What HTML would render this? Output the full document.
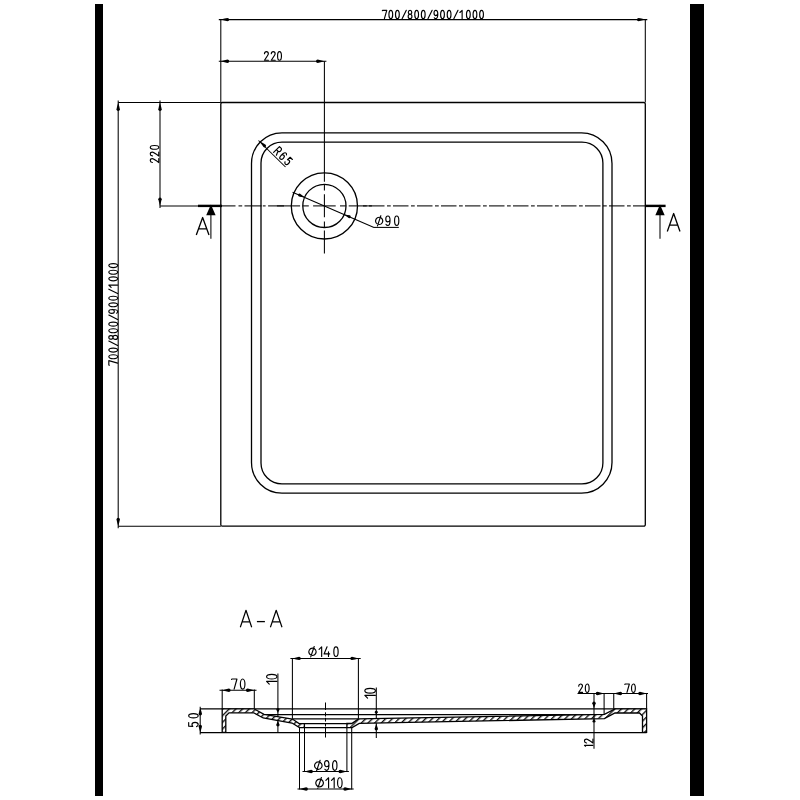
<!DOCTYPE html>
<html><head><meta charset="utf-8"><style>html,body{margin:0;padding:0;background:#fff;}svg{display:block;}</style></head>
<body><svg width="800" height="800" viewBox="0 0 800 800">
<rect width="800" height="800" fill="#fff"/>
<rect x="95" y="4" width="8" height="792" fill="#000"/>
<rect x="690" y="4" width="14" height="792" fill="#000"/>
<path d="M222.3,102.5 L643.8,102.5 A1.5,1.5 0 0 1 645.3,104.0 L645.3,524.7 A1.5,1.5 0 0 1 643.8,526.2 L222.3,526.2 A1.5,1.5 0 0 1 220.8,524.7 L220.8,104.0 A1.5,1.5 0 0 1 222.3,102.5 Z" stroke="#000" stroke-width="1.3" fill="none" stroke-linejoin="round" />
<path d="M282.0,132.9 L581.5,132.9 A30.5,30.5 0 0 1 612.0,163.4 L612.0,462.6 A30.5,30.5 0 0 1 581.5,493.1 L282.0,493.1 A30.5,30.5 0 0 1 251.5,462.6 L251.5,163.4 A30.5,30.5 0 0 1 282.0,132.9 Z" stroke="#000" stroke-width="1.3" fill="none" stroke-linejoin="round" />
<path d="M282.0,142.1 L581.9,142.1 A21.0,21.0 0 0 1 602.9,163.1 L602.9,462.9 A21.0,21.0 0 0 1 581.9,483.9 L282.0,483.9 A21.0,21.0 0 0 1 261.0,462.9 L261.0,163.1 A21.0,21.0 0 0 1 282.0,142.1 Z" stroke="#000" stroke-width="1.3" fill="none" stroke-linejoin="round" />
<circle cx="324.4" cy="205.9" r="33.1" fill="none" stroke="#000" stroke-width="1.3"/>
<circle cx="324.4" cy="205.9" r="21.6" fill="none" stroke="#000" stroke-width="1.3"/>
<line x1="218.8" y1="19.6" x2="647.3" y2="19.6" stroke="#000" stroke-width="1.05" stroke-linecap="butt"/>
<line x1="220.8" y1="19.0" x2="220.8" y2="102.5" stroke="#000" stroke-width="1.05" stroke-linecap="butt"/>
<line x1="645.3" y1="19.0" x2="645.3" y2="102.5" stroke="#000" stroke-width="1.05" stroke-linecap="butt"/>
<path d="M220.80,19.60 L224.58,18.58 L227.50,17.90 A1.7,1.7 0 0 1 227.50,21.30 L224.58,20.62 Z" fill="#000"/>
<path d="M645.30,19.60 L641.52,20.62 L638.60,21.30 A1.7,1.7 0 0 1 638.60,17.90 L641.52,18.58 Z" fill="#000"/>
<g transform="translate(381.750,19.250) rotate(0) translate(0.575,-0.575) scale(0.8350) translate(0,-10)" fill="none" stroke="#000" stroke-width="1.377" stroke-linecap="round" stroke-linejoin="round"><path transform="translate(0.000,0)" d="M0,0.5 L0.3,0 L5.3,0 L2.5,10"/><path transform="translate(7.900,0)" d="M0,5 A2.25,5 0 0 1 4.5,5 A2.25,5 0 0 1 0,5 Z"/><path transform="translate(15.800,0)" d="M0,5 A2.25,5 0 0 1 4.5,5 A2.25,5 0 0 1 0,5 Z"/><path transform="translate(23.700,0)" d="M0,10 L5,0"/><path transform="translate(30.959,0)" d="M2.25,4.7 C0.9,4.7 0.2,3.7 0.2,2.4 C0.2,1 1,0 2.25,0 C3.5,0 4.3,1 4.3,2.4 C4.3,3.7 3.6,4.7 2.25,4.7 C0.9,4.7 0,5.8 0,7.3 C0,8.9 1,10 2.25,10 C3.5,10 4.5,8.9 4.5,7.3 C4.5,5.8 3.6,4.7 2.25,4.7 Z"/><path transform="translate(38.859,0)" d="M0,5 A2.25,5 0 0 1 4.5,5 A2.25,5 0 0 1 0,5 Z"/><path transform="translate(46.759,0)" d="M0,5 A2.25,5 0 0 1 4.5,5 A2.25,5 0 0 1 0,5 Z"/><path transform="translate(54.659,0)" d="M0,10 L5,0"/><path transform="translate(61.919,0)" d="M0.3,8.9 C0.7,9.7 1.4,10 2.2,10 C3.7,10 4.5,7.8 4.5,4.4 C4.5,1.4 3.6,0 2.25,0 C0.8,0 0,1.2 0,3.2 C0,5.1 0.9,6.3 2.2,6.3 C3.3,6.3 4.1,5.4 4.5,4.1"/><path transform="translate(69.819,0)" d="M0,5 A2.25,5 0 0 1 4.5,5 A2.25,5 0 0 1 0,5 Z"/><path transform="translate(77.719,0)" d="M0,5 A2.25,5 0 0 1 4.5,5 A2.25,5 0 0 1 0,5 Z"/><path transform="translate(85.619,0)" d="M0,10 L5,0"/><path transform="translate(92.878,0)" d="M0,2.6 L2.7,0 L2.7,10"/><path transform="translate(100.778,0)" d="M0,5 A2.25,5 0 0 1 4.5,5 A2.25,5 0 0 1 0,5 Z"/><path transform="translate(108.678,0)" d="M0,5 A2.25,5 0 0 1 4.5,5 A2.25,5 0 0 1 0,5 Z"/><path transform="translate(116.578,0)" d="M0,5 A2.25,5 0 0 1 4.5,5 A2.25,5 0 0 1 0,5 Z"/></g>
<line x1="218.8" y1="61.3" x2="326.4" y2="61.3" stroke="#000" stroke-width="1.05" stroke-linecap="butt"/>
<path d="M220.80,61.30 L224.58,60.28 L227.50,59.60 A1.7,1.7 0 0 1 227.50,63.00 L224.58,62.32 Z" fill="#000"/>
<path d="M324.40,61.30 L320.62,62.32 L317.70,63.00 A1.7,1.7 0 0 1 317.70,59.60 L320.62,60.28 Z" fill="#000"/>
<line x1="324.4" y1="61.3" x2="324.4" y2="181.75" stroke="#000" stroke-width="1.05" stroke-linecap="butt"/>
<g transform="translate(263.900,60.800) rotate(0) translate(0.575,-0.575) scale(0.8600) translate(0,-10)" fill="none" stroke="#000" stroke-width="1.337" stroke-linecap="round" stroke-linejoin="round"><path transform="translate(0.000,0)" d="M0,2.5 C0.1,1 1,0 2.25,0 C3.5,0 4.5,1 4.5,2.5 C4.5,3.7 3.8,4.8 0,10 L4.6,10"/><path transform="translate(7.907,0)" d="M0,2.5 C0.1,1 1,0 2.25,0 C3.5,0 4.5,1 4.5,2.5 C4.5,3.7 3.8,4.8 0,10 L4.6,10"/><path transform="translate(15.233,0)" d="M0,5 A2.25,5 0 0 1 4.5,5 A2.25,5 0 0 1 0,5 Z"/></g>
<line x1="118.2" y1="100.5" x2="118.2" y2="528.2" stroke="#000" stroke-width="1.05" stroke-linecap="butt"/>
<path d="M118.20,102.50 L119.22,106.28 L119.90,109.20 A1.7,1.7 0 0 1 116.50,109.20 L117.18,106.28 Z" fill="#000"/>
<path d="M118.20,526.20 L117.18,522.42 L116.50,519.50 A1.7,1.7 0 0 1 119.90,519.50 L119.22,522.42 Z" fill="#000"/>
<line x1="118.2" y1="102.5" x2="220.8" y2="102.5" stroke="#000" stroke-width="1.05" stroke-linecap="butt"/>
<line x1="118.2" y1="526.2" x2="220.8" y2="526.2" stroke="#000" stroke-width="1.05" stroke-linecap="butt"/>
<g transform="translate(118.200,365.900) rotate(-90) translate(0.575,-0.575) scale(0.8800) translate(0,-10)" fill="none" stroke="#000" stroke-width="1.307" stroke-linecap="round" stroke-linejoin="round"><path transform="translate(0.000,0)" d="M0,0.5 L0.3,0 L5.3,0 L2.5,10"/><path transform="translate(7.527,0)" d="M0,5 A2.25,5 0 0 1 4.5,5 A2.25,5 0 0 1 0,5 Z"/><path transform="translate(15.053,0)" d="M0,5 A2.25,5 0 0 1 4.5,5 A2.25,5 0 0 1 0,5 Z"/><path transform="translate(22.580,0)" d="M0,10 L5,0"/><path transform="translate(29.496,0)" d="M2.25,4.7 C0.9,4.7 0.2,3.7 0.2,2.4 C0.2,1 1,0 2.25,0 C3.5,0 4.3,1 4.3,2.4 C4.3,3.7 3.6,4.7 2.25,4.7 C0.9,4.7 0,5.8 0,7.3 C0,8.9 1,10 2.25,10 C3.5,10 4.5,8.9 4.5,7.3 C4.5,5.8 3.6,4.7 2.25,4.7 Z"/><path transform="translate(37.023,0)" d="M0,5 A2.25,5 0 0 1 4.5,5 A2.25,5 0 0 1 0,5 Z"/><path transform="translate(44.549,0)" d="M0,5 A2.25,5 0 0 1 4.5,5 A2.25,5 0 0 1 0,5 Z"/><path transform="translate(52.076,0)" d="M0,10 L5,0"/><path transform="translate(58.992,0)" d="M0.3,8.9 C0.7,9.7 1.4,10 2.2,10 C3.7,10 4.5,7.8 4.5,4.4 C4.5,1.4 3.6,0 2.25,0 C0.8,0 0,1.2 0,3.2 C0,5.1 0.9,6.3 2.2,6.3 C3.3,6.3 4.1,5.4 4.5,4.1"/><path transform="translate(66.519,0)" d="M0,5 A2.25,5 0 0 1 4.5,5 A2.25,5 0 0 1 0,5 Z"/><path transform="translate(74.045,0)" d="M0,5 A2.25,5 0 0 1 4.5,5 A2.25,5 0 0 1 0,5 Z"/><path transform="translate(81.572,0)" d="M0,10 L5,0"/><path transform="translate(88.488,0)" d="M0,2.6 L2.7,0 L2.7,10"/><path transform="translate(96.015,0)" d="M0,5 A2.25,5 0 0 1 4.5,5 A2.25,5 0 0 1 0,5 Z"/><path transform="translate(103.542,0)" d="M0,5 A2.25,5 0 0 1 4.5,5 A2.25,5 0 0 1 0,5 Z"/><path transform="translate(111.068,0)" d="M0,5 A2.25,5 0 0 1 4.5,5 A2.25,5 0 0 1 0,5 Z"/></g>
<line x1="160" y1="100.5" x2="160" y2="207.9" stroke="#000" stroke-width="1.05" stroke-linecap="butt"/>
<path d="M160.00,102.50 L161.02,106.28 L161.70,109.20 A1.7,1.7 0 0 1 158.30,109.20 L158.98,106.28 Z" fill="#000"/>
<path d="M160.00,205.90 L158.98,202.12 L158.30,199.20 A1.7,1.7 0 0 1 161.70,199.20 L161.02,202.12 Z" fill="#000"/>
<line x1="160" y1="205.9" x2="198" y2="205.9" stroke="#000" stroke-width="1.05" stroke-linecap="butt"/>
<g transform="translate(159.350,163.100) rotate(-90) translate(0.575,-0.575) scale(0.8500) translate(0,-10)" fill="none" stroke="#000" stroke-width="1.353" stroke-linecap="round" stroke-linejoin="round"><path transform="translate(0.000,0)" d="M0,2.5 C0.1,1 1,0 2.25,0 C3.5,0 4.5,1 4.5,2.5 C4.5,3.7 3.8,4.8 0,10 L4.6,10"/><path transform="translate(7.779,0)" d="M0,2.5 C0.1,1 1,0 2.25,0 C3.5,0 4.5,1 4.5,2.5 C4.5,3.7 3.8,4.8 0,10 L4.6,10"/><path transform="translate(15.559,0)" d="M0,5 A2.25,5 0 0 1 4.5,5 A2.25,5 0 0 1 0,5 Z"/></g>
<line x1="198" y1="205.9" x2="222" y2="205.9" stroke="#000" stroke-width="2.4" stroke-linecap="butt"/>
<line x1="645" y1="205.9" x2="665.6" y2="205.9" stroke="#000" stroke-width="2.4" stroke-linecap="butt"/>
<polygon points="210.9,204.6 206.2,215.2 215.6,215.2" fill="#000"/>
<line x1="210.9" y1="215" x2="210.9" y2="238.8" stroke="#000" stroke-width="1.05" stroke-linecap="butt"/>
<polygon points="660,204.6 655.3,215.2 664.7,215.2" fill="#000"/>
<line x1="660" y1="215" x2="660" y2="238.8" stroke="#000" stroke-width="1.05" stroke-linecap="butt"/>
<path d="M196.3,235.0 L202.65,217.5 L209.0,235.0 M198.078,228.875 L207.222,228.875" stroke="#000" stroke-width="1.3" fill="none" stroke-linejoin="round" />
<path d="M667.3,231.5 L673.65,213.5 L680.0,231.5 M669.078,225.2 L678.222,225.2" stroke="#000" stroke-width="1.3" fill="none" stroke-linejoin="round" />
<line x1="222" y1="205.9" x2="235.5" y2="205.9" stroke="#000" stroke-width="1.05" stroke-linecap="butt"/>
<line x1="238.5" y1="205.9" x2="242.2" y2="205.9" stroke="#000" stroke-width="1.05" stroke-linecap="butt"/>
<line x1="244.5" y1="205.9" x2="261.6" y2="205.9" stroke="#000" stroke-width="1.05" stroke-linecap="butt"/>
<line x1="262.8" y1="205.9" x2="265.6" y2="205.9" stroke="#000" stroke-width="1.05" stroke-linecap="butt"/>
<line x1="268.1" y1="205.9" x2="284" y2="205.9" stroke="#000" stroke-width="1.05" stroke-linecap="butt"/>
<line x1="369" y1="205.9" x2="384.5" y2="205.9" stroke="#000" stroke-width="1.05" stroke-linecap="butt"/>
<line x1="363" y1="205.9" x2="366.75" y2="205.9" stroke="#000" stroke-width="1.05" stroke-linecap="butt"/>
<line x1="393" y1="205.9" x2="408.5" y2="205.9" stroke="#000" stroke-width="1.05" stroke-linecap="butt"/>
<line x1="387" y1="205.9" x2="390.75" y2="205.9" stroke="#000" stroke-width="1.05" stroke-linecap="butt"/>
<line x1="417" y1="205.9" x2="432.5" y2="205.9" stroke="#000" stroke-width="1.05" stroke-linecap="butt"/>
<line x1="411" y1="205.9" x2="414.75" y2="205.9" stroke="#000" stroke-width="1.05" stroke-linecap="butt"/>
<line x1="441" y1="205.9" x2="456.5" y2="205.9" stroke="#000" stroke-width="1.05" stroke-linecap="butt"/>
<line x1="435" y1="205.9" x2="438.75" y2="205.9" stroke="#000" stroke-width="1.05" stroke-linecap="butt"/>
<line x1="465" y1="205.9" x2="480.5" y2="205.9" stroke="#000" stroke-width="1.05" stroke-linecap="butt"/>
<line x1="459" y1="205.9" x2="462.75" y2="205.9" stroke="#000" stroke-width="1.05" stroke-linecap="butt"/>
<line x1="489" y1="205.9" x2="504.5" y2="205.9" stroke="#000" stroke-width="1.05" stroke-linecap="butt"/>
<line x1="483" y1="205.9" x2="486.75" y2="205.9" stroke="#000" stroke-width="1.05" stroke-linecap="butt"/>
<line x1="513" y1="205.9" x2="528.5" y2="205.9" stroke="#000" stroke-width="1.05" stroke-linecap="butt"/>
<line x1="507" y1="205.9" x2="510.75" y2="205.9" stroke="#000" stroke-width="1.05" stroke-linecap="butt"/>
<line x1="537" y1="205.9" x2="552.5" y2="205.9" stroke="#000" stroke-width="1.05" stroke-linecap="butt"/>
<line x1="531" y1="205.9" x2="534.75" y2="205.9" stroke="#000" stroke-width="1.05" stroke-linecap="butt"/>
<line x1="561" y1="205.9" x2="576.5" y2="205.9" stroke="#000" stroke-width="1.05" stroke-linecap="butt"/>
<line x1="555" y1="205.9" x2="558.75" y2="205.9" stroke="#000" stroke-width="1.05" stroke-linecap="butt"/>
<line x1="585" y1="205.9" x2="600.5" y2="205.9" stroke="#000" stroke-width="1.05" stroke-linecap="butt"/>
<line x1="579" y1="205.9" x2="582.75" y2="205.9" stroke="#000" stroke-width="1.05" stroke-linecap="butt"/>
<line x1="609" y1="205.9" x2="624.5" y2="205.9" stroke="#000" stroke-width="1.05" stroke-linecap="butt"/>
<line x1="603" y1="205.9" x2="606.75" y2="205.9" stroke="#000" stroke-width="1.05" stroke-linecap="butt"/>
<line x1="633" y1="205.9" x2="645" y2="205.9" stroke="#000" stroke-width="1.05" stroke-linecap="butt"/>
<line x1="627" y1="205.9" x2="630.75" y2="205.9" stroke="#000" stroke-width="1.05" stroke-linecap="butt"/>
<line x1="348.7" y1="205.9" x2="371.9" y2="205.9" stroke="#000" stroke-width="1.05" stroke-linecap="butt"/>
<line x1="340.0" y1="205.9" x2="346.09999999999997" y2="205.9" stroke="#000" stroke-width="1.05" stroke-linecap="butt"/>
<line x1="313.09999999999997" y1="205.9" x2="335.7" y2="205.9" stroke="#000" stroke-width="1.05" stroke-linecap="butt"/>
<line x1="302.7" y1="205.9" x2="308.79999999999995" y2="205.9" stroke="#000" stroke-width="1.05" stroke-linecap="butt"/>
<line x1="276.9" y1="205.9" x2="300.09999999999997" y2="205.9" stroke="#000" stroke-width="1.05" stroke-linecap="butt"/>
<line x1="324.4" y1="230.6" x2="324.4" y2="253.4" stroke="#000" stroke-width="1.05" stroke-linecap="butt"/>
<line x1="324.4" y1="221.6" x2="324.4" y2="227.5" stroke="#000" stroke-width="1.05" stroke-linecap="butt"/>
<line x1="324.4" y1="194.25" x2="324.4" y2="217.20000000000002" stroke="#000" stroke-width="1.05" stroke-linecap="butt"/>
<line x1="324.4" y1="184.5" x2="324.4" y2="190.5" stroke="#000" stroke-width="1.05" stroke-linecap="butt"/>
<line x1="258.5" y1="140.5" x2="285.5" y2="167.0" stroke="#000" stroke-width="1.05" stroke-linecap="butt"/>
<path d="M260.20,141.60 L263.27,143.35 L265.61,144.80 A1.5,1.5 0 0 1 263.51,146.94 L262.01,144.64 Z" fill="#000"/>
<g transform="translate(272.800,152.400) rotate(45) translate(0.575,-0.575) scale(0.8250) translate(0,-10)" fill="none" stroke="#000" stroke-width="1.394" stroke-linecap="round" stroke-linejoin="round"><path transform="translate(0.000,0)" d="M0,10 L0,0 L2.8,0 C4,0 4.7,1.1 4.7,2.6 C4.7,4.1 4,5.2 2.8,5.2 L0,5.2 M2.6,5.2 L4.8,10"/><path transform="translate(8.932,0)" d="M4.2,1.1 C3.8,0.3 3.1,0 2.3,0 C0.8,0 0,2.2 0,5.6 C0,8.6 0.9,10 2.25,10 C3.7,10 4.5,8.8 4.5,6.8 C4.5,4.9 3.6,3.7 2.3,3.7 C1.2,3.7 0.4,4.6 0,5.9"/><path transform="translate(17.864,0)" d="M4.3,0 L0.5,0 L0.2,4.3 C0.8,3.8 1.5,3.5 2.3,3.5 C3.6,3.5 4.5,4.8 4.5,6.7 C4.5,8.8 3.6,10 2.25,10 C1.2,10 0.4,9.3 0,8.3"/></g>
<line x1="292.6" y1="192.2" x2="374.0" y2="227.4" stroke="#000" stroke-width="1.05" stroke-linecap="butt"/>
<line x1="374.0" y1="227.4" x2="398.8" y2="227.4" stroke="#000" stroke-width="1.05" stroke-linecap="butt"/>
<path d="M304.60,197.30 L301.35,196.88 L298.96,196.49 A1.5,1.5 0 0 1 300.15,193.74 L302.07,195.22 Z" fill="#000"/>
<path d="M344.20,214.50 L347.45,214.92 L349.84,215.31 A1.5,1.5 0 0 1 348.65,218.06 L346.73,216.58 Z" fill="#000"/>
<g transform="translate(375.000,226.000) rotate(0) translate(0.575,-0.575) scale(0.9450) translate(0,-10)" fill="none" stroke="#000" stroke-width="1.217" stroke-linecap="round" stroke-linejoin="round"><path transform="translate(0.000,0)" d="M3.8,1.4 A3.8,3.8 0 1 1 3.79,1.4 Z M2,10.5 L5.6,-0.3"/><path transform="translate(10.794,0)" d="M0.3,8.9 C0.7,9.7 1.4,10 2.2,10 C3.7,10 4.5,7.8 4.5,4.4 C4.5,1.4 3.6,0 2.25,0 C0.8,0 0,1.2 0,3.2 C0,5.1 0.9,6.3 2.2,6.3 C3.3,6.3 4.1,5.4 4.5,4.1"/><path transform="translate(20.106,0)" d="M0,5 A2.25,5 0 0 1 4.5,5 A2.25,5 0 0 1 0,5 Z"/></g>
<path d="M240.3,627.3 L246.0,610.3 L251.70000000000002,627.3 M241.89600000000002,621.8599999999999 L250.104,621.8599999999999" stroke="#000" stroke-width="1.2" fill="none" stroke-linejoin="round" />
<line x1="256.9" y1="621.6" x2="264.9" y2="621.6" stroke="#000" stroke-width="1.3" stroke-linecap="butt"/>
<path d="M270.4,627.3 L276.2,610.3 L282.0,627.3 M272.024,621.8599999999999 L280.376,621.8599999999999" stroke="#000" stroke-width="1.2" fill="none" stroke-linejoin="round" />
<line x1="200.1" y1="708.8" x2="646.6" y2="708.8" stroke="#000" stroke-width="1.25" stroke-linecap="butt"/>
<line x1="200.1" y1="732.5" x2="646.6" y2="732.5" stroke="#000" stroke-width="1.25" stroke-linecap="butt"/>
<line x1="264" y1="714.6" x2="604.1" y2="714.6" stroke="#000" stroke-width="1.25" stroke-linecap="butt"/>
<line x1="292.3" y1="718.9" x2="358.4" y2="718.9" stroke="#000" stroke-width="1.25" stroke-linecap="butt"/>
<line x1="200.2" y1="706.8" x2="200.2" y2="734.4" stroke="#000" stroke-width="1.05" stroke-linecap="butt"/>
<path d="M200.30,707.90 L201.32,711.32 L202.00,713.80 A1.7,1.7 0 0 1 198.60,713.80 L199.28,711.32 Z" fill="#000"/>
<path d="M200.30,732.40 L199.28,728.98 L198.60,726.50 A1.7,1.7 0 0 1 202.00,726.50 L201.32,728.98 Z" fill="#000"/>
<g transform="translate(198.750,727.200) rotate(-90) translate(0.575,-0.575) scale(0.9500) translate(0,-10)" fill="none" stroke="#000" stroke-width="1.211" stroke-linecap="round" stroke-linejoin="round"><path transform="translate(0.000,0)" d="M4.3,0 L0.5,0 L0.2,4.3 C0.8,3.8 1.5,3.5 2.3,3.5 C3.6,3.5 4.5,4.8 4.5,6.7 C4.5,8.8 3.6,10 2.25,10 C1.2,10 0.4,9.3 0,8.3"/><path transform="translate(9.132,0)" d="M0,5 A2.25,5 0 0 1 4.5,5 A2.25,5 0 0 1 0,5 Z"/></g>
<line x1="219.5" y1="690.3" x2="256.5" y2="690.3" stroke="#000" stroke-width="1.05" stroke-linecap="butt"/>
<path d="M222.20,690.30 L225.98,689.28 L228.90,688.60 A1.7,1.7 0 0 1 228.90,692.00 L225.98,691.32 Z" fill="#000"/>
<path d="M254.30,690.30 L250.52,691.32 L247.60,692.00 A1.7,1.7 0 0 1 247.60,688.60 L250.52,689.28 Z" fill="#000"/>
<line x1="222.2" y1="689.5" x2="222.2" y2="708.8" stroke="#000" stroke-width="1.05" stroke-linecap="butt"/>
<line x1="254.3" y1="689.5" x2="254.3" y2="708.8" stroke="#000" stroke-width="1.05" stroke-linecap="butt"/>
<g transform="translate(231.000,689.700) rotate(0) translate(0.575,-0.575) scale(1.0150) translate(0,-10)" fill="none" stroke="#000" stroke-width="1.133" stroke-linecap="round" stroke-linejoin="round"><path transform="translate(0.000,0)" d="M0,0.5 L0.3,0 L5.3,0 L2.5,10"/><path transform="translate(8.670,0)" d="M0,5 A2.25,5 0 0 1 4.5,5 A2.25,5 0 0 1 0,5 Z"/></g>
<line x1="277.9" y1="673.4" x2="277.9" y2="732.4" stroke="#000" stroke-width="1.05" stroke-linecap="butt"/>
<path d="M277.90,712.90 L276.88,710.74 L276.20,709.80 A1.7,1.7 0 0 1 279.60,709.80 L278.92,710.74 Z" fill="#000"/>
<path d="M277.90,720.80 L278.92,723.32 L279.60,724.70 A1.7,1.7 0 0 1 276.20,724.70 L276.88,723.32 Z" fill="#000"/>
<g transform="translate(277.500,684.750) rotate(-90) translate(0.575,-0.575) scale(1.0350) translate(0,-10)" fill="none" stroke="#000" stroke-width="1.111" stroke-linecap="round" stroke-linejoin="round"><path transform="translate(0.000,0)" d="M0,2.6 L2.7,0 L2.7,10"/><path transform="translate(5.017,0)" d="M0,5 A2.25,5 0 0 1 4.5,5 A2.25,5 0 0 1 0,5 Z"/></g>
<line x1="290.4" y1="658.4" x2="360.7" y2="658.4" stroke="#000" stroke-width="1.05" stroke-linecap="butt"/>
<path d="M292.40,658.40 L296.18,657.38 L299.10,656.70 A1.7,1.7 0 0 1 299.10,660.10 L296.18,659.42 Z" fill="#000"/>
<path d="M358.70,658.40 L354.92,659.42 L352.00,660.10 A1.7,1.7 0 0 1 352.00,656.70 L354.92,657.38 Z" fill="#000"/>
<line x1="292.4" y1="658.4" x2="292.4" y2="718.8" stroke="#000" stroke-width="1.05" stroke-linecap="butt"/>
<line x1="358.4" y1="658.4" x2="358.4" y2="718.8" stroke="#000" stroke-width="1.05" stroke-linecap="butt"/>
<g transform="translate(308.250,657.000) rotate(0) translate(0.575,-0.575) scale(0.9600) translate(0,-10)" fill="none" stroke="#000" stroke-width="1.198" stroke-linecap="round" stroke-linejoin="round"><path transform="translate(0.000,0)" d="M3.8,1.4 A3.8,3.8 0 1 1 3.79,1.4 Z M2,10.5 L5.6,-0.3"/><path transform="translate(10.677,0)" d="M0,2.6 L2.7,0 L2.7,10"/><path transform="translate(15.885,0)" d="M3.1,0 L0,7.4 L5.8,7.4 M4.6,5.3 L4.6,10"/><path transform="translate(26.042,0)" d="M0,5 A2.25,5 0 0 1 4.5,5 A2.25,5 0 0 1 0,5 Z"/></g>
<line x1="376.3" y1="687.5" x2="376.3" y2="738.0" stroke="#000" stroke-width="1.05" stroke-linecap="butt"/>
<path d="M376.30,715.00 L375.28,713.11 L374.60,712.50 A1.7,1.7 0 0 1 378.00,712.50 L377.32,713.11 Z" fill="#000"/>
<path d="M376.30,723.50 L377.32,726.65 L378.00,728.80 A1.7,1.7 0 0 1 374.60,728.80 L375.28,726.65 Z" fill="#000"/>
<g transform="translate(376.000,698.750) rotate(-90) translate(0.575,-0.575) scale(1.0600) translate(0,-10)" fill="none" stroke="#000" stroke-width="1.085" stroke-linecap="round" stroke-linejoin="round"><path transform="translate(0.000,0)" d="M0,2.6 L2.7,0 L2.7,10"/><path transform="translate(4.792,0)" d="M0,5 A2.25,5 0 0 1 4.5,5 A2.25,5 0 0 1 0,5 Z"/></g>
<line x1="325.5" y1="702.5" x2="325.5" y2="710" stroke="#000" stroke-width="1.05" stroke-linecap="butt"/>
<line x1="325.5" y1="712.3" x2="325.5" y2="716.5" stroke="#000" stroke-width="1.05" stroke-linecap="butt"/>
<line x1="325.5" y1="717.8" x2="325.5" y2="721.5" stroke="#000" stroke-width="1.05" stroke-linecap="butt"/>
<line x1="325.5" y1="723" x2="325.5" y2="726.5" stroke="#000" stroke-width="1.05" stroke-linecap="butt"/>
<line x1="325.5" y1="728" x2="325.5" y2="737.5" stroke="#000" stroke-width="1.05" stroke-linecap="butt"/>
<defs><pattern id="hat" patternUnits="userSpaceOnUse" width="4.7" height="20" patternTransform="rotate(45)"><rect x="0" y="0" width="4.7" height="20" fill="#fff"/><rect x="0" y="0" width="1.35" height="20" fill="#111"/></pattern></defs>
<polygon points="222.2,732.4 222.2,708.8 254.0,708.8 264.0,714.4 292.4,719.0 299.1,723.6 304.4,723.6 304.4,727.6 299.5,727.6 292.0,723.0 263.2,718.0 253.6,712.8 229.0,712.8 225.8,716.0 225.8,732.4" fill="url(#hat)" stroke="#000" stroke-width="1.3" stroke-linejoin="miter"/>
<polygon points="346.9,723.5 351.75,723.5 358.5,718.9 604.4,714.3 615.0,708.8 646.6,708.8 646.6,732.4 642.5,732.4 642.5,716.0 639.5,713.0 615.0,713.0 604.4,718.6 359.25,723.4 352.1,727.6 346.9,727.6" fill="url(#hat)" stroke="#000" stroke-width="1.3" stroke-linejoin="miter"/>
<line x1="304.4" y1="723.6" x2="346.9" y2="723.6" stroke="#000" stroke-width="1.3" stroke-linecap="butt"/>
<line x1="304.4" y1="727.6" x2="346.9" y2="727.6" stroke="#000" stroke-width="1.4" stroke-linecap="butt"/>
<line x1="299.5" y1="727.6" x2="299.5" y2="789.4" stroke="#000" stroke-width="1.05" stroke-linecap="butt"/>
<line x1="351.7" y1="727.6" x2="351.7" y2="789.4" stroke="#000" stroke-width="1.05" stroke-linecap="butt"/>
<line x1="304.5" y1="727.6" x2="304.5" y2="771.9" stroke="#000" stroke-width="1.05" stroke-linecap="butt"/>
<line x1="346.9" y1="727.6" x2="346.9" y2="771.9" stroke="#000" stroke-width="1.05" stroke-linecap="butt"/>
<line x1="302.5" y1="771.5" x2="348.9" y2="771.5" stroke="#000" stroke-width="1.05" stroke-linecap="butt"/>
<path d="M304.50,771.50 L308.28,770.48 L311.20,769.80 A1.7,1.7 0 0 1 311.20,773.20 L308.28,772.52 Z" fill="#000"/>
<path d="M346.90,771.50 L343.12,772.52 L340.20,773.20 A1.7,1.7 0 0 1 340.20,769.80 L343.12,770.48 Z" fill="#000"/>
<g transform="translate(314.050,770.900) rotate(0) translate(0.575,-0.575) scale(0.9750) translate(0,-10)" fill="none" stroke="#000" stroke-width="1.179" stroke-linecap="round" stroke-linejoin="round"><path transform="translate(0.000,0)" d="M3.8,1.4 A3.8,3.8 0 1 1 3.79,1.4 Z M2,10.5 L5.6,-0.3"/><path transform="translate(10.205,0)" d="M0.3,8.9 C0.7,9.7 1.4,10 2.2,10 C3.7,10 4.5,7.8 4.5,4.4 C4.5,1.4 3.6,0 2.25,0 C0.8,0 0,1.2 0,3.2 C0,5.1 0.9,6.3 2.2,6.3 C3.3,6.3 4.1,5.4 4.5,4.1"/><path transform="translate(18.410,0)" d="M0,5 A2.25,5 0 0 1 4.5,5 A2.25,5 0 0 1 0,5 Z"/></g>
<line x1="297.5" y1="789.0" x2="353.7" y2="789.0" stroke="#000" stroke-width="1.05" stroke-linecap="butt"/>
<path d="M299.50,789.00 L303.28,787.98 L306.20,787.30 A1.7,1.7 0 0 1 306.20,790.70 L303.28,790.02 Z" fill="#000"/>
<path d="M351.70,789.00 L347.92,790.02 L345.00,790.70 A1.7,1.7 0 0 1 345.00,787.30 L347.92,787.98 Z" fill="#000"/>
<g transform="translate(315.200,788.400) rotate(0) translate(0.575,-0.575) scale(1.0050) translate(0,-10)" fill="none" stroke="#000" stroke-width="1.144" stroke-linecap="round" stroke-linejoin="round"><path transform="translate(0.000,0)" d="M3.8,1.4 A3.8,3.8 0 1 1 3.79,1.4 Z M2,10.5 L5.6,-0.3"/><path transform="translate(10.050,0)" d="M0,2.6 L2.7,0 L2.7,10"/><path transform="translate(15.622,0)" d="M0,2.6 L2.7,0 L2.7,10"/><path transform="translate(21.692,0)" d="M0,5 A2.25,5 0 0 1 4.5,5 A2.25,5 0 0 1 0,5 Z"/></g>
<line x1="577.5" y1="693.5" x2="648.0" y2="693.5" stroke="#000" stroke-width="1.05" stroke-linecap="butt"/>
<path d="M604.10,693.50 L600.32,694.52 L597.40,695.20 A1.7,1.7 0 0 1 597.40,691.80 L600.32,692.48 Z" fill="#000"/>
<path d="M613.75,693.50 L617.53,692.48 L620.45,691.80 A1.7,1.7 0 0 1 620.45,695.20 L617.53,694.52 Z" fill="#000"/>
<path d="M646.60,693.50 L642.82,694.52 L639.90,695.20 A1.7,1.7 0 0 1 639.90,691.80 L642.82,692.48 Z" fill="#000"/>
<line x1="604.1" y1="693.5" x2="604.1" y2="714.3" stroke="#000" stroke-width="1.05" stroke-linecap="butt"/>
<line x1="613.75" y1="693.5" x2="613.75" y2="708.8" stroke="#000" stroke-width="1.05" stroke-linecap="butt"/>
<line x1="646.6" y1="693.5" x2="646.6" y2="708.8" stroke="#000" stroke-width="1.05" stroke-linecap="butt"/>
<g transform="translate(578.100,693.000) rotate(0) translate(0.575,-0.575) scale(0.8450) translate(0,-10)" fill="none" stroke="#000" stroke-width="1.361" stroke-linecap="round" stroke-linejoin="round"><path transform="translate(0.000,0)" d="M0,2.5 C0.1,1 1,0 2.25,0 C3.5,0 4.5,1 4.5,2.5 C4.5,3.7 3.8,4.8 0,10 L4.6,10"/><path transform="translate(7.867,0)" d="M0,5 A2.25,5 0 0 1 4.5,5 A2.25,5 0 0 1 0,5 Z"/></g>
<g transform="translate(624.300,693.000) rotate(0) translate(0.575,-0.575) scale(0.8450) translate(0,-10)" fill="none" stroke="#000" stroke-width="1.361" stroke-linecap="round" stroke-linejoin="round"><path transform="translate(0.000,0)" d="M0,0.5 L0.3,0 L5.3,0 L2.5,10"/><path transform="translate(7.867,0)" d="M0,5 A2.25,5 0 0 1 4.5,5 A2.25,5 0 0 1 0,5 Z"/></g>
<line x1="594.0" y1="693.5" x2="594.0" y2="748.8" stroke="#000" stroke-width="1.05" stroke-linecap="butt"/>
<path d="M594.00,708.50 L592.98,705.35 L592.30,703.20 A1.7,1.7 0 0 1 595.70,703.20 L595.02,705.35 Z" fill="#000"/>
<path d="M594.00,718.60 L595.02,720.40 L595.70,720.90 A1.7,1.7 0 0 1 592.30,720.90 L592.98,720.40 Z" fill="#000"/>
<g transform="translate(593.500,747.600) rotate(-90) translate(0.575,-0.575) scale(0.8450) translate(0,-10)" fill="none" stroke="#000" stroke-width="1.361" stroke-linecap="round" stroke-linejoin="round"><path transform="translate(0.000,0)" d="M1.0,1.3 L2.0,0 L2.0,10"/><path transform="translate(4.808,0)" d="M0,2.5 C0.1,1 1,0 2.25,0 C3.5,0 4.5,1 4.5,2.5 C4.5,3.7 3.8,4.8 0,10 L4.6,10"/></g>
</svg></body></html>
